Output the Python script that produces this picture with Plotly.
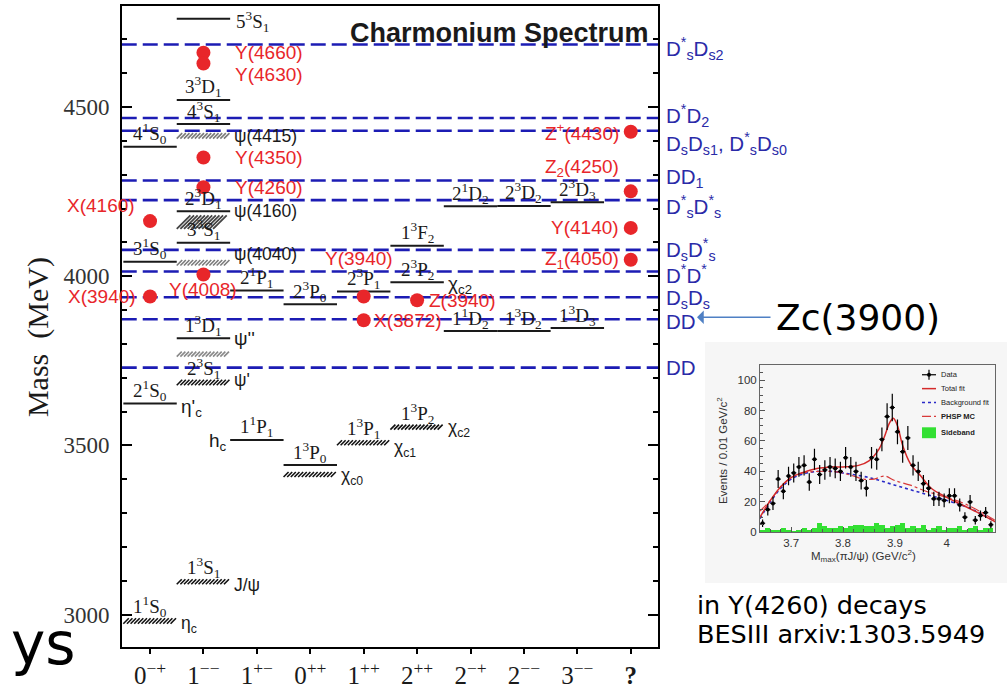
import numpy as np
import plotly.graph_objects as go

W, H = 1007, 697

# ---------------- main spectrum data ----------------
jpc_ticks = ["0<sup>−+</sup>", "1<sup>−−</sup>", "1<sup>+−</sup>", "0<sup>++</sup>", "1<sup>++</sup>",
             "2<sup>++</sup>", "2<sup>−+</sup>", "2<sup>−−</sup>", "3<sup>−−</sup>", "<b>?</b>"]

# predicted levels (solid lines)
theory_labels = ["2<sup>1</sup>S<sub>0</sub>", "3<sup>1</sup>S<sub>0</sub>", "4<sup>1</sup>S<sub>0</sub>",
                 "1<sup>3</sup>D<sub>1</sub>", "3<sup>3</sup>S<sub>1</sub>", "2<sup>3</sup>D<sub>1</sub>",
                 "4<sup>3</sup>S<sub>1</sub>", "3<sup>3</sup>D<sub>1</sub>", "5<sup>3</sup>S<sub>1</sub>",
                 "1<sup>1</sup>P<sub>1</sub>", "2<sup>1</sup>P<sub>1</sub>",
                 "1<sup>3</sup>P<sub>0</sub>", "2<sup>3</sup>P<sub>0</sub>",
                 "2<sup>3</sup>P<sub>1</sub>",
                 "2<sup>3</sup>P<sub>2</sub>", "1<sup>3</sup>F<sub>2</sub>",
                 "1<sup>1</sup>D<sub>2</sub>", "2<sup>1</sup>D<sub>2</sub>",
                 "1<sup>3</sup>D<sub>2</sub>", "2<sup>3</sup>D<sub>2</sub>",
                 "1<sup>3</sup>D<sub>3</sub>", "2<sup>3</sup>D<sub>3</sub>"]
theory_cols = [0, 0, 0, 1, 1, 1, 1, 1, 1, 2, 2, 3, 3, 4, 5, 5, 6, 6, 7, 7, 8, 8]
theory_mass = [3624, 4043, 4383, 3817, 4099, 4192, 4450, 4521, 4761, 3516, 3958,
               3442, 3917, 3955, 3982, 4090, 3838, 4207, 3838, 4208, 3847, 4219]
# names attached to some predicted levels: index -> (text, side, yshift)
theory_names = {0: ("η'<sub>c</sub>", "right", -5), 3: ("ψ''", "right", 0),
                9: ("h<sub>c</sub>", "left", -2), 14: ("χ<sub>c2</sub>", "right", -3)}

# observed states (hatched bands)
band_spec = ["1<sup>1</sup>S<sub>0</sub>", "1<sup>3</sup>S<sub>1</sub>", "2<sup>3</sup>S<sub>1</sub>", "", "", "", "",
             "", "1<sup>3</sup>P<sub>1</sub>", "1<sup>3</sup>P<sub>2</sub>"]
band_names = ["η<sub>c</sub>", "J/ψ", "ψ'", "", "ψ(4040)", "ψ(4160)", "ψ(4415)",
              "χ<sub>c0</sub>", "χ<sub>c1</sub>", "χ<sub>c2</sub>"]
band_cols = [0, 1, 1, 1, 1, 1, 1, 3, 4, 5]
band_mass = [2981, 3097, 3686, 3770, 4040, 4160, 4415, 3414, 3508, 3554]
band_halfwidth = [8, 7, 8, 7, 8, 20, 8, 7, 7, 7]
band_shade = ["#111111", "#111111", "#111111", "#8a8a8a", "#7a7a7a", "#444444", "#7a7a7a",
              "#111111", "#111111", "#111111"]
band_name_yshift = [-4, -3, 2, 0, 9, 11, 0, -2, -6, -1]

# exotic / unassigned states (red dots)
exotic_names = ["Y(4660)", "Y(4630)", "Y(4350)", "Y(4260)", "Y(4008)", "X(4160)", "X(3940)",
                "Y(3940)", "X(3872)", "Z(3940)", "Z<sup>+</sup>(4430)", "Z<sub>2</sub>(4250)",
                "Y(4140)", "Z<sub>1</sub>(4050)"]
exotic_cols = [1, 1, 1, 1, 1, 0, 0, 4, 4, 5, 9, 9, 9, 9]
exotic_mass = [4661, 4629, 4351, 4263, 4005, 4163, 3940, 3940, 3870, 3929, 4427, 4251, 4143, 4049]
exotic_place = [("left", 30, 0), ("left", 30, -11), ("left", 30, 0), ("left", 30, 0),
                ("center", 0, -15), ("right", -13, 16), ("right", -12, 0), ("center", -5, 38),
                ("left", 8, 0), ("left", 10, 0), ("right", -10, 0), ("right", -10, 23),
                ("right", -10, 0), ("right", -10, 0)]

# open-charm thresholds
thr_labels = ["D<sup>*</sup><sub>s</sub>D<sub>s2</sub>", "D<sup>*</sup>D<sub>2</sub>",
              "D<sub>s</sub>D<sub>s1</sub>, D<sup>*</sup><sub>s</sub>D<sub>s0</sub>", "DD<sub>1</sub>",
              "D<sup>*</sup><sub>s</sub>D<sup>*</sup><sub>s</sub>", "D<sub>s</sub>D<sup>*</sup><sub>s</sub>",
              "D<sup>*</sup>D<sup>*</sup>", "D<sub>s</sub>D<sub>s</sub>", "DD", "DD"]
thr_mass = [4685, 4468, 4430, 4283, 4225, 4078, 4014, 3938, 3873, 3730]
thr_yshift = [-4, 2, -13, 3, -6, 0, -2, -2, -2, 0]

# ---------------- inset (BESIII Zc(3900)) data ----------------
bin_centers = np.round(np.arange(3.645, 4.09, 0.01), 3)
counts = [6, 15, 19, 35, 27, 37, 39, 43, 44, 33, 48, 38, 41, 43, 42, 40, 49, 43, 40, 34,
          29, 49, 48, 61, 76, 82, 66, 53, 62, 44, 40, 32, 29, 22, 22, 21, 24, 24, 18, 10,
          20, 8, 11, 13, 5]
sideband = [2, 3, 2, 2, 3, 2, 1, 2, 3, 2, 3, 6, 4, 3, 3, 4, 3, 4, 5, 5, 4, 4, 6, 5, 3,
            4, 5, 6, 3, 4, 3, 5, 2, 3, 4, 2, 3, 3, 4, 2, 3, 4, 2, 3, 3]
total_x = [3.640, 3.66, 3.68, 3.70, 3.72, 3.75, 3.78, 3.80, 3.83, 3.85, 3.87, 3.88, 3.89,
           3.897, 3.905, 3.915, 3.93, 3.95, 3.97, 4.00, 4.03, 4.06, 4.093]
total_y = [10, 21, 30, 36, 39, 42, 43, 43, 44, 47, 55, 63, 72, 75, 70, 57, 45, 37, 29, 23, 18, 13, 7]
bkg_x = [3.64, 3.66, 3.68, 3.70, 3.72, 3.75, 3.78, 3.80, 3.85, 3.90, 3.95, 4.00, 4.05, 4.093]
bkg_y = [9, 20, 29, 35, 38, 40, 40, 39, 36, 31, 26, 21, 15, 7]
phsp_x = [3.64, 3.66, 3.68, 3.70, 3.72, 3.75, 3.78, 3.80, 3.82, 3.84, 3.86, 3.88, 3.90,
          3.93, 3.96, 4.00, 4.04, 4.093]
phsp_y = [14, 21, 30, 36, 39, 40, 40, 39, 37, 35, 35, 37, 34, 31, 27, 23, 18, 8]
legend_names = ["Data", "Total fit", "Background fit", "<b>PHSP MC</b>", "<b>Sideband</b>"]

# ---------------- styles ----------------
SERIF = "Liberation Serif"
SANS = "Liberation Sans"
BLACK = "#1a1a1a"
RED = "#e8262a"
BLUE = "#1c1cb4"
LBLUE = "#2a2aa8"
C_TOTAL = "#d42a2a"
C_BKG = "#2a2ac8"
C_PHSP = "#d83a3a"
C_SIDE = "#33e033"
PX_PER_MEV = 647 / (4799 - 2903)   # vertical scale of the main axes
PX_PER_COL = 536 / 10.035          # horizontal scale of the main axes
HATCH_STEP = 0.068                 # spacing of hatch strokes, in column units


def px(xp):
    return xp / W


def py(yp):
    return 1 - yp / H


fig = go.Figure()

# hatched observed bands: a row of "/" strokes across the column
for i in range(len(band_mass)):
    c = band_cols[i]
    stroke = max(5.0, 2 * band_halfwidth[i] * PX_PER_MEV)
    inset = 0.5 * stroke / PX_PER_COL
    xs = np.arange(c - 0.5 + inset, c + 0.5 - inset + 1e-9, HATCH_STEP)
    fig.add_trace(go.Scatter(
        x=xs, y=[band_mass[i]] * len(xs), mode="markers", xaxis="x", yaxis="y",
        showlegend=False, hoverinfo="skip",
        marker=dict(symbol="line-ne", size=stroke,
                    line=dict(color=band_shade[i], width=1.6 if stroke < 8 else 1.8))))

# threshold dashed lines
for m in thr_mass:
    fig.add_trace(go.Scatter(x=[-0.53, 9.52], y=[m, m], mode="lines", showlegend=False,
                             hoverinfo="skip", line=dict(color=BLUE, width=2.6, dash="15px,6px")))

# predicted levels
for c, m in zip(theory_cols, theory_mass):
    fig.add_trace(go.Scatter(x=[c - 0.5, c + 0.5], y=[m, m], mode="lines", showlegend=False,
                             hoverinfo="skip", line=dict(color=BLACK, width=2)))

# exotic states
fig.add_trace(go.Scatter(x=exotic_cols, y=exotic_mass, mode="markers", showlegend=False,
                         hoverinfo="skip", marker=dict(color=RED, size=14)))

# ---- inset traces ----
fig.add_trace(go.Bar(x=bin_centers, y=sideband, width=0.01, xaxis="x2", yaxis="y2", showlegend=False,
                     marker=dict(color=C_SIDE, line=dict(width=0))))
fig.add_trace(go.Scatter(x=bkg_x, y=bkg_y, mode="lines", xaxis="x2", yaxis="y2", showlegend=False,
                         line=dict(color=C_BKG, width=1.6, dash="dot", shape="spline")))
fig.add_trace(go.Scatter(x=phsp_x, y=phsp_y, mode="lines", xaxis="x2", yaxis="y2", showlegend=False,
                         line=dict(color=C_PHSP, width=1.2, dash="dashdot", shape="spline")))
fig.add_trace(go.Scatter(x=total_x, y=total_y, mode="lines", xaxis="x2", yaxis="y2", showlegend=False,
                         line=dict(color=C_TOTAL, width=1.5, shape="spline")))
fig.add_trace(go.Scatter(x=bin_centers, y=counts, mode="markers", xaxis="x2", yaxis="y2", showlegend=False,
                         marker=dict(color="black", size=4),
                         error_y=dict(type="data", array=np.sqrt(counts), thickness=1.2, width=0, color="black"),
                         error_x=dict(type="constant", value=0.005, thickness=1.2, width=0, color="black")))

ann = []

# spectroscopic labels above levels
for lab, c, m in zip(theory_labels, theory_cols, theory_mass):
    if lab.startswith("5<sup>3</sup>S"):
        ann.append(dict(x=c + 0.5, y=m, xref="x", yref="y", text=lab, showarrow=False,
                        xanchor="left", yanchor="middle", xshift=4, yshift=-3,
                        font=dict(family=SERIF, size=19, color=BLACK)))
    else:
        ann.append(dict(x=c, y=m, xref="x", yref="y", text=lab, showarrow=False,
                        xanchor="center", yanchor="middle", yshift=13,
                        font=dict(family=SERIF, size=19, color=BLACK)))
for idx, (txt, side, dy) in theory_names.items():
    c, m = theory_cols[idx], theory_mass[idx]
    if side == "right":
        ann.append(dict(x=c + 0.5, y=m, xref="x", yref="y", text=txt, showarrow=False,
                        xanchor="left", yanchor="middle", xshift=2, yshift=dy,
                        font=dict(family=SANS, size=19, color=BLACK)))
    else:
        ann.append(dict(x=c - 0.5, y=m, xref="x", yref="y", text=txt, showarrow=False,
                        xanchor="right", yanchor="middle", xshift=-1, yshift=dy,
                        font=dict(family=SANS, size=19, color=BLACK)))

for i in range(len(band_mass)):
    if band_spec[i]:
        ann.append(dict(x=band_cols[i], y=band_mass[i], xref="x", yref="y", text=band_spec[i],
                        showarrow=False, xanchor="center", yanchor="middle", yshift=14,
                        font=dict(family=SERIF, size=19, color=BLACK)))
    if band_names[i]:
        ann.append(dict(x=band_cols[i] + 0.5, y=band_mass[i], xref="x", yref="y", text=band_names[i],
                        showarrow=False, xanchor="left", yanchor="middle", xshift=2,
                        yshift=band_name_yshift[i], font=dict(family=SANS, size=17.5, color=BLACK)))

for name, c, m, (xa, dx, dy) in zip(exotic_names, exotic_cols, exotic_mass, exotic_place):
    ann.append(dict(x=c, y=m, xref="x", yref="y", text=name, showarrow=False,
                    xanchor=xa, yanchor="middle", xshift=dx, yshift=dy,
                    font=dict(family=SANS, size=19, color=RED)))

for lab, m, dy in zip(thr_labels, thr_mass, thr_yshift):
    ann.append(dict(x=px(664), y=m, xref="paper", yref="y", text=lab, showarrow=False,
                    xanchor="left", yanchor="middle", yshift=dy,
                    font=dict(family=SANS, size=20.5, color=LBLUE)))

# titles and free text
ann += [
    dict(x=px(651), y=py(33), xref="paper", yref="paper", text="<b>Charmonium Spectrum</b>",
         showarrow=False, xanchor="right", yanchor="middle", font=dict(family=SANS, size=27, color=BLACK)),
    dict(x=px(38), y=py(340), xref="paper", yref="paper", text="Mass  (MeV)", textangle=-90,
         showarrow=False, xanchor="center", yanchor="middle", font=dict(family=SERIF, size=30, color=BLACK)),
    dict(x=px(78), y=py(650), xref="paper", yref="paper", text="ys", showarrow=False,
         xanchor="right", yanchor="middle", font=dict(family="DejaVu Sans", size=58, color="black")),
    dict(x=px(858), y=py(320), xref="paper", yref="paper", text="Zc(3900)", showarrow=False,
         xanchor="center", yanchor="middle", font=dict(family="DejaVu Sans", size=36, color="black")),
    dict(x=px(697), y=py(320), xref="paper", yref="paper", ax=75, ay=0,
         axref="pixel", ayref="pixel", text="", showarrow=True, arrowhead=1, arrowsize=1.6,
         arrowwidth=1.4, arrowcolor="#4f80c4"),
    dict(x=px(695), y=py(610), xref="paper", yref="paper", text="in Y(4260) decays", showarrow=False,
         xanchor="left", yanchor="middle", font=dict(family="DejaVu Sans", size=25.5, color="black")),
    dict(x=px(695), y=py(640), xref="paper", yref="paper", text="BESIII arxiv:1303.5949",
         showarrow=False, xanchor="left", yanchor="middle",
         font=dict(family="DejaVu Sans", size=25.5, color="black")),
    dict(x=px(863), y=py(561), xref="paper", yref="paper",
         text="M<sub>max</sub>(πJ/ψ) (GeV/c<sup>2</sup>)", showarrow=False, xanchor="center",
         yanchor="middle", font=dict(family=SANS, size=11.5, color="#333")),
    dict(x=px(722), y=py(455), xref="paper", yref="paper", text="Events / 0.01 GeV/c<sup>2</sup>",
         textangle=-90, showarrow=False, xanchor="center", yanchor="middle",
         font=dict(family=SANS, size=11.5, color="#333")),
]

shapes = [dict(type="rect", xref="paper", yref="paper", x0=px(705), x1=1.0, y0=py(588),
               y1=py(345), fillcolor="#f6f6f6", line=dict(width=0), layer="below")]

# inset legend (drawn by hand so the rows sit close together)
leg_y = [378, 392, 406, 420, 436]
for name, yy in zip(legend_names, leg_y):
    ann.append(dict(x=px(939), y=py(yy), xref="paper", yref="paper", text=name, showarrow=False,
                    xanchor="left", yanchor="middle", font=dict(family=SANS, size=7.5, color="#222")))
shapes += [
    dict(type="line", xref="paper", yref="paper", x0=px(922), x1=px(936), y0=py(378), y1=py(378),
         line=dict(color="black", width=1.2)),
    dict(type="line", xref="paper", yref="paper", x0=px(929), x1=px(929), y0=py(373), y1=py(383),
         line=dict(color="black", width=1.2)),
    dict(type="circle", xref="paper", yref="paper", x0=px(927), x1=px(931), y0=py(380), y1=py(376),
         fillcolor="black", line=dict(width=0)),
    dict(type="line", xref="paper", yref="paper", x0=px(922), x1=px(936), y0=py(392), y1=py(392),
         line=dict(color=C_TOTAL, width=1.5)),
    dict(type="line", xref="paper", yref="paper", x0=px(922), x1=px(936), y0=py(406), y1=py(406),
         line=dict(color=C_BKG, width=1.6, dash="dot")),
    dict(type="line", xref="paper", yref="paper", x0=px(922), x1=px(936), y0=py(420), y1=py(420),
         line=dict(color=C_PHSP, width=1.2, dash="dashdot")),
    dict(type="rect", xref="paper", yref="paper", x0=px(922), x1=px(936), y0=py(442), y1=py(431),
         fillcolor=C_SIDE, line=dict(width=0)),
]

fig.update_layout(
    width=W, height=H, margin=dict(l=0, r=0, t=0, b=0),
    paper_bgcolor="white", plot_bgcolor="rgba(0,0,0,0)",
    barmode="overlay", bargap=0, showlegend=False,
    shapes=shapes, annotations=ann,
    xaxis=dict(domain=[px(122), px(658)], range=[-0.525, 9.51], tickvals=list(range(10)),
               ticktext=jpc_ticks, ticks="outside", ticklen=5, tickwidth=1.5, tickcolor="black",
               showline=True, linewidth=2, linecolor="black", mirror=True, showgrid=False,
               zeroline=False, tickfont=dict(family=SERIF, size=25, color=BLACK), anchor="y"),
    yaxis=dict(domain=[py(653), py(6)], range=[2903, 4799], tickvals=[3000, 3500, 4000, 4500],
               ticks="inside", ticklen=10, tickwidth=1.5, tickcolor="black",
               minor=dict(ticks="inside", ticklen=5, dtick=100, tick0=3000, tickcolor="black"),
               showline=True, linewidth=2, linecolor="black", mirror="ticks", showgrid=False,
               zeroline=False, tickfont=dict(family=SERIF, size=23, color="#333"), anchor="x",
               ticklabelstandoff=6),
    xaxis2=dict(domain=[px(760), px(995)], range=[3.64, 4.093], anchor="y2",
                tickvals=[3.7, 3.8, 3.9, 4.0], ticktext=["3.7", "3.8", "3.9", "4"],
                ticks="inside", ticklen=5, tickcolor="#555",
                minor=dict(ticks="inside", ticklen=3, dtick=0.02, tick0=3.6, tickcolor="#555"),
                showline=True, linewidth=1, linecolor="#666", mirror=True, showgrid=False,
                zeroline=False, tickfont=dict(family=SANS, size=11.5, color="#333")),
    yaxis2=dict(domain=[py(537), py(368)], range=[0, 110], anchor="x2",
                tickvals=[0, 20, 40, 60, 80, 100], ticks="inside", ticklen=5, tickcolor="#555",
                minor=dict(ticks="inside", ticklen=3, dtick=5, tickcolor="#555"),
                showline=True, linewidth=1, linecolor="#666", mirror=True, showgrid=False,
                zeroline=False, tickfont=dict(family=SANS, size=11.5, color="#333")),
)

fig.write_html("out.html")
